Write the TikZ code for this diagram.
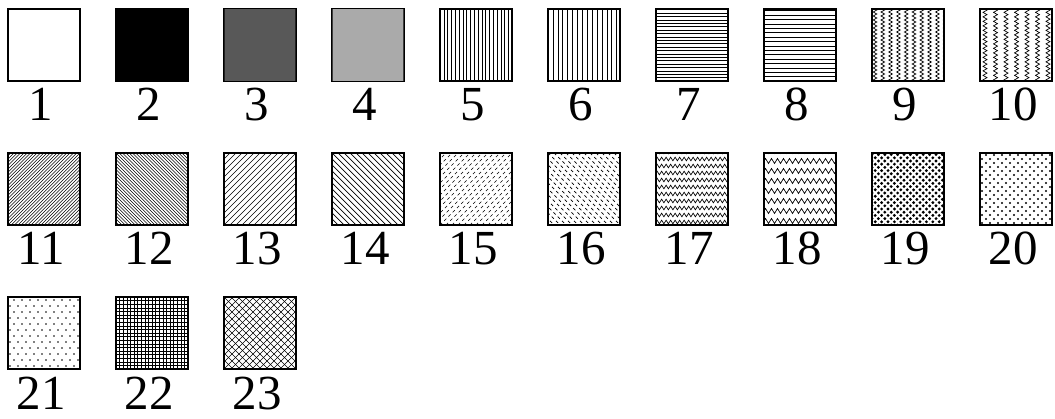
\documentclass[tikz,border=0pt]{standalone}
\usepackage{fontspec}
\setmainfont{Liberation Serif}
\usetikzlibrary{decorations.pathmorphing}
\definecolor{dgray}{RGB}{88,88,88}
\definecolor{lgray}{RGB}{170,170,170}
\tikzset{
  cell/.style={rectangle,draw=black,line width=1.2pt,fill=white,minimum size=72pt,inner sep=0pt,outer sep=0pt},
  lab/.style={anchor=base,inner sep=0pt,font=\fontsize{49}{49}\selectfont},
  hatch/.style={line width=0.7pt,draw=black},
  fine/.style={line width=0.55pt,draw=black},
  zig/.style 2 args={decorate,decoration={zigzag,segment length=#1,amplitude=#2}},
  dashy/.style={dash pattern=on 3pt off 3pt},
}
% fill a cell with a pattern, local coords 0..72
\newcommand\patin[2]{%
  \begin{scope}[shift={(#1.south west)}]
    \clip (0.6,0.6) rectangle (71.4,71.4);
    #2
  \end{scope}}
\begin{document}
\begin{tikzpicture}[x=1pt,y=1pt]
\useasboundingbox (0,0) rectangle (1055,418);
% Cells and numbers
\foreach \n in {1,...,23}{
  \pgfmathtruncatemacro\col{mod(\n-1,10)}
  \pgfmathtruncatemacro\row{(\n-1)/10}
  \node[cell] (b\n) at ({44+108*\col},{373-144*\row}) {};
  \node[lab] (t\n) at ({41+108*\col},{297-144*\row}) {\n};
}

% --- solid fills ---
\patin{b2}{\fill[black] (0,0) rectangle (72,72);}
\patin{b3}{\fill[dgray] (0,0) rectangle (72,72);}
\patin{b4}{\fill[lgray] (0,0) rectangle (72,72);}

% --- straight lines ---
\patin{b5}{\foreach \k in {1,...,19} \draw[fine] (\k*3.8,0) -- ++(0,72);}
\patin{b6}{\foreach \k in {1,...,14} \draw[fine] (\k*4.9,0) -- ++(0,72);}
\patin{b7}{\foreach \k in {1,...,21} \draw[fine] (0,\k*3.4) -- ++(72,0);}
\patin{b8}{\foreach \k in {1,...,16} \draw[fine] (0,\k*4.4) -- ++(72,0);}

% --- vertical zigzags ---
\patin{b9}{\foreach \k in {0,...,9} \draw[hatch,zig={4pt}{1.8pt}] (\k*7.8+3,0) -- ++(0,72);}
\patin{b10}{\foreach \k in {0,...,6} \draw[hatch,zig={4.5pt}{2pt}] (\k*10.5+5,0) -- ++(0,72);}

% --- diagonals ---
\patin{b11}{\foreach \k in {-24,...,24} \draw[fine] (\k*3.3,0) -- ++(72,72);}
\patin{b12}{\foreach \k in {-24,...,24} \draw[fine] (\k*3.3,72) -- ++(72,-72);}
\patin{b13}{\foreach \k in {-12,...,12} \draw[hatch] (\k*6,0) -- ++(72,72);}
\patin{b14}{\foreach \k in {-12,...,12} \draw[hatch] (\k*6,72) -- ++(72,-72);}
\patin{b15}{\foreach \k in {-12,...,12} \draw[hatch,dashy] (\k*6,0) -- ++(72,72);}
\patin{b16}{\foreach \k in {-12,...,12} \draw[hatch,dashy] (\k*6,72) -- ++(72,-72);}

% --- horizontal zigzags ---
\patin{b17}{\foreach \k in {0,...,10} \draw[hatch,zig={4.5pt}{1.8pt}] (0,\k*7+3) -- ++(72,0);}
\patin{b18}{\foreach \k in {0,...,7} \draw[hatch,zig={6pt}{2.5pt}] (0,\k*10+4) -- ++(72,0);}

% --- dots ---
\patin{b19}{\foreach \i in {0,...,12} \foreach \j in {0,...,12}{
  \fill (\i*6.4,\j*6.4) circle (1.6pt); \fill (\i*6.4+3.2,\j*6.4+3.2) circle (1.6pt);}}
\patin{b20}{\foreach \i in {0,...,9} \foreach \j in {0,...,9}{
  \fill (\i*8+2,\j*8+2) circle (1.15pt); \fill (\i*8+6,\j*8+6) circle (1.15pt);}}
\patin{b21}{\foreach \i in {0,...,9} \foreach \j in {0,...,12}{
  \fill ({\i*8+2+mod(\j,2)*4},{\j*6+3}) circle (0.9pt);}}

% --- grid and crosshatch ---
\patin{b22}{\foreach \k in {1,...,20}{
  \draw[fine] (\k*3.6,0) -- ++(0,72); \draw[fine] (0,\k*3.6) -- ++(72,0);}}
\patin{b23}{\foreach \k in {-11,...,11}{
  \draw[hatch] (\k*7,0) -- ++(72,72); \draw[hatch] (\k*7,72) -- ++(72,-72);}}
\end{tikzpicture}
\end{document}
